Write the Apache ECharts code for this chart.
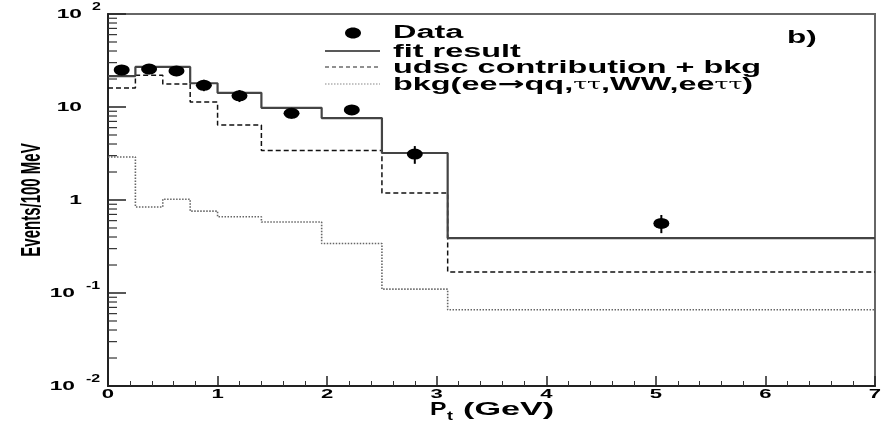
<!DOCTYPE html>
<html>
<head>
<meta charset="utf-8">
<script src="https://cdn.jsdelivr.net/npm/echarts@6/dist/echarts.min.js"></script>
<style>
  html, body { margin: 0; padding: 0; background: #fff; }
  #chart { width: 890px; height: 424px; }
</style>
</head>
<body>
<div id="chart"></div>
<script>
// Histogram bin edges in Pt (GeV) and per-bin contents (Events/100 MeV)
const binEdges    = [0, 0.25, 0.5, 0.75, 1.0, 1.4, 1.95, 2.5, 3.1, 7];
const fitResult   = [21.5, 27, 27, 18, 14.2, 9.8, 7.6, 3.2, 0.39];
const udscPlusBkg = [16, 22, 17.7, 11.3, 6.4, 3.4, 3.4, 1.19, 0.168];
const bkgOnly     = [2.9, 0.84, 1.02, 0.76, 0.66, 0.58, 0.34, 0.11, 0.066];

// Measured points with vertical error bars
const dataPt   = [0.125, 0.375, 0.625, 0.875, 1.2, 1.675, 2.225, 2.8, 5.05];
const dataVal  = [25, 25.6, 24.4, 17.1, 13.2, 8.55, 9.3, 3.12, 0.56];
const dataLow  = [22, 22.5, 21.5, 14.8, 11.3, 7.5, 8.2, 2.45, 0.44];
const dataHigh = [28, 29, 27.5, 19.6, 15.2, 9.7, 10.5, 3.8, 0.69];

// Axis tick labels
const xTickLabels = ['0', '1', '2', '3', '4', '5', '6', '7'];
const yTickValues = [0.01, 0.1, 1, 10, 100];
const yTickBase   = ['10', '10', '1', '10', '10'];
const yTickSup    = ['-2', '-1', '', '', '2'];
// log minor ticks: mantissas within each decade
const yDecades   = [0.01, 0.1, 1, 10];
const yMantissas = [2, 3, 4, 5, 6, 7, 8, 9];

const FONT = '"Liberation Sans", Arial, Helvetica, sans-serif';
const SX = 1.8; // horizontal stretch of the lettering

function histPoints(vals) {
  const pts = vals.map((v, i) => [binEdges[i], v]);
  pts.push([binEdges[binEdges.length - 1], vals[vals.length - 1]]);
  return pts;
}

const minorTicks = [];
yDecades.forEach(d => yMantissas.forEach(m => minorTicks.push([0, d * m])));

const chart = echarts.init(document.getElementById('chart'), null, { renderer: 'canvas' });

const option = {
  backgroundColor: '#fff',
  animation: false,
  grid: {
    left: 108, right: 15, top: 14, bottom: 38,
    show: true, borderColor: '#666', borderWidth: 2, backgroundColor: 'transparent'
  },
  xAxis: {
    type: 'value', min: 0, max: 7, interval: 1,
    axisLine: { show: true, onZero: false, lineStyle: { color: '#222', width: 2 } },
    axisTick: { show: true, inside: true, length: 10, lineStyle: { color: '#222', width: 1.5 } },
    minorTick: { show: true, splitNumber: 5, length: 5, lineStyle: { color: '#333', width: 1 } },
    axisLabel: { show: false },
    splitLine: { show: false }, minorSplitLine: { show: false }
  },
  yAxis: {
    type: 'log', logBase: 10, min: 0.01, max: 100,
    axisLine: { show: true, onZero: false, lineStyle: { color: '#222', width: 2 } },
    axisTick: { show: true, inside: true, length: 18, lineStyle: { color: '#222', width: 1.5 } },
    axisLabel: { show: false },
    splitLine: { show: false }
  },
  series: [
    {
      name: 'bkg', type: 'line', step: 'end', symbol: 'none',
      data: histPoints(bkgOnly),
      lineStyle: { color: '#666', width: 1.6, type: [1.5, 1.5] }, z: 2
    },
    {
      name: 'udsc contribution + bkg', type: 'line', step: 'end', symbol: 'none',
      data: histPoints(udscPlusBkg),
      lineStyle: { color: '#111', width: 1.5, type: [5, 3] }, z: 3
    },
    {
      name: 'fit result', type: 'line', step: 'end', symbol: 'none',
      data: histPoints(fitResult),
      lineStyle: { color: '#444', width: 2.2 }, z: 4
    },
    {
      name: 'errors', type: 'custom', clip: false, z: 5,
      data: dataPt.map((x, i) => [x, dataLow[i], dataHigh[i]]),
      encode: { x: 0, y: [1, 2] },
      renderItem: function (params, api) {
        const a = api.coord([api.value(0), api.value(1)]);
        const b = api.coord([api.value(0), api.value(2)]);
        return { type: 'line', shape: { x1: a[0], y1: a[1], x2: b[0], y2: b[1] },
                 style: { stroke: '#000', lineWidth: 2 } };
      }
    },
    {
      name: 'Data', type: 'scatter', symbol: 'circle', symbolSize: [16, 11],
      data: dataPt.map((x, i) => [x, dataVal[i]]),
      itemStyle: { color: '#000', opacity: 1 }, z: 6
    },
    {
      name: 'yMinorTicks', type: 'custom', clip: false, z: 7, silent: true,
      data: minorTicks,
      renderItem: function (params, api) {
        const p = api.coord([0, api.value(1)]);
        return { type: 'line', shape: { x1: p[0], y1: p[1], x2: p[0] + 9, y2: p[1] },
                 style: { stroke: '#333', lineWidth: 1.2 } };
      }
    },
    {
      name: 'yLabels', type: 'custom', clip: false, z: 7, silent: true,
      data: yTickValues.map((v, i) => [0, v, i]),
      renderItem: function (params, api) {
        const i = api.value(2);
        const p = api.coord([0, api.value(1)]);
        const sup = yTickSup[i];
        const neg = sup.length > 1;
        const children = [{
          type: 'text', x: neg ? p[0] - 33 : p[0] - 26, y: p[1] + 0.5, scaleX: 1.75,
          style: { text: yTickBase[i], font: 'bold 13px ' + FONT, fill: '#000',
                   align: 'right', verticalAlign: 'middle' }
        }];
        if (sup) {
          children.push({
            type: 'text', x: neg ? p[0] - 22 : p[0] - 16, y: p[1] - 7, scaleX: 1.6,
            style: { text: sup, font: 'bold 10px ' + FONT, fill: '#000',
                     align: 'left', verticalAlign: 'middle' }
          });
        }
        return { type: 'group', children: children };
      }
    },
    {
      name: 'xLabels', type: 'custom', clip: false, z: 7, silent: true,
      data: xTickLabels.map((t, i) => [i, 0.01, i]),
      renderItem: function (params, api) {
        const p = api.coord([api.value(0), api.value(1)]);
        return { type: 'text', x: p[0], y: p[1] + 8, scaleX: 1.7,
                 style: { text: xTickLabels[api.value(2)], font: 'bold 13px ' + FONT,
                          fill: '#000', align: 'center', verticalAlign: 'middle' } };
      }
    }
  ],
  graphic: [
    // legend
    { type: 'ellipse', shape: { cx: 353, cy: 33, rx: 8, ry: 5.5 }, style: { fill: '#000' } },
    { type: 'line', shape: { x1: 325, y1: 51, x2: 380, y2: 51 }, style: { stroke: '#222', lineWidth: 1.5 } },
    { type: 'line', shape: { x1: 325, y1: 67, x2: 380, y2: 67 }, style: { stroke: '#222', lineWidth: 1.2, lineDash: [4, 3] } },
    { type: 'line', shape: { x1: 325, y1: 84, x2: 380, y2: 84 }, style: { stroke: '#888', lineWidth: 1.2, lineDash: [1.5, 1.5] } },
    { type: 'text', x: 393, y: 33, scaleX: SX,
      style: { text: 'Data', font: 'bold 18px ' + FONT, fill: '#000', verticalAlign: 'middle' } },
    { type: 'text', x: 393, y: 52, scaleX: SX,
      style: { text: 'fit result', font: 'bold 18px ' + FONT, fill: '#000', verticalAlign: 'middle' } },
    { type: 'text', x: 393, y: 68, scaleX: SX,
      style: { text: 'udsc contribution + bkg', font: 'bold 18px ' + FONT, fill: '#000', verticalAlign: 'middle' } },
    { type: 'text', x: 393, y: 85, scaleX: SX,
      style: {
        text: '{a|bkg(ee}{r|→}{a|qq,}{g|ττ}{a|,WW,ee}{g|ττ}{a|)}',
        verticalAlign: 'middle',
        rich: {
          a: { font: 'bold 18px ' + FONT, fill: '#000' },
          r: { font: 'bold 18px "DejaVu Sans", sans-serif', fill: '#000' },
          g: { font: '14px "DejaVu Serif", serif', fill: '#000' }
        }
      } },
    // panel tag
    { type: 'text', x: 787, y: 38, scaleX: 1.75,
      style: { text: 'b)', font: 'bold 18px ' + FONT, fill: '#000', verticalAlign: 'middle' } },
    // axis titles
    { type: 'text', x: 33, y: 200, rotation: Math.PI / 2, scaleY: 1.8,
      style: { text: 'Events/100 MeV', font: 'bold 15px ' + FONT, fill: '#000',
               align: 'center', verticalAlign: 'middle' } },
    { type: 'text', x: 430, y: 410, scaleX: 1.3,
      style: { text: 'P', font: 'bold 19px ' + FONT, fill: '#000', verticalAlign: 'middle' } },
    { type: 'text', x: 447, y: 417, scaleX: 1.5,
      style: { text: 't', font: 'bold 12px ' + FONT, fill: '#000', verticalAlign: 'middle' } },
    { type: 'text', x: 463, y: 410, scaleX: 1.8,
      style: { text: '(GeV)', font: 'bold 19px ' + FONT, fill: '#000', verticalAlign: 'middle' } }
  ]
};

chart.setOption(option);
</script>
</body>
</html>
